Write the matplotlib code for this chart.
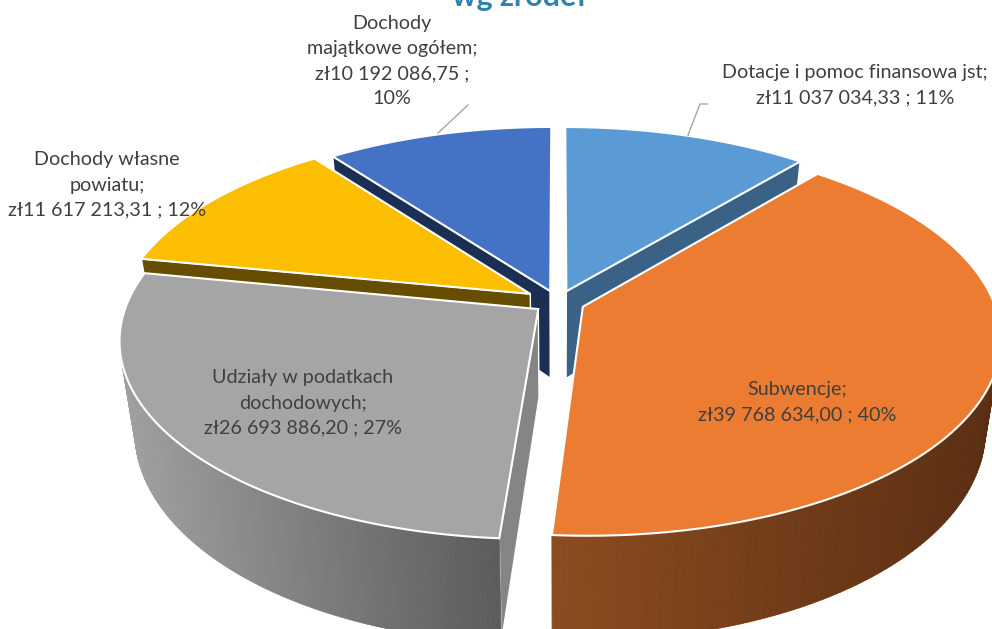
import numpy as np
import matplotlib.pyplot as plt
from matplotlib.colors import to_rgb

plt.rcParams['font.family'] = ['Lato', 'DejaVu Sans']

labels = ['Dotacje i pomoc finansowa jst;\nzł11 037 034,33 ; 11%',
          'Subwencje;\nzł39 768 634,00 ; 40%',
          'Udziały w podatkach\ndochodowych;\nzł26 693 886,20 ; 27%',
          'Dochody własne\npowiatu;\nzł11 617 213,31 ; 12%',
          'Dochody\nmajątkowe ogółem;\nzł10 192 086,75 ;\n10%']
values = [11037034.33, 39768634.00, 26693886.20, 11617213.31, 10192086.75]
label_pos = [(855, 85), (797, 402), (303, 403), (107, 185), (392, 61)]

top_colors = ['#5B9BD5', '#EB7C31', '#A5A5A5', '#FBBE00', '#4472C4']
cut_colors = ['#3A6186', '#5F3213', '#858585', '#664D00', '#1B2F55']
rim_left = ['#3A6186', '#8C4C21', '#A0A0A0', '#664D00', '#1B2F55']
rim_right = ['#3A6186', '#5A2E12', '#5C5C5C', '#664D00', '#1B2F55']
explode = [0.06, 0.065, 0.06, 0.08, 0.06]

# perspective of the tilted pie
cx, cy = 558, 302
a, b, k = 411, 192.4, 0.153
depth = 88
shrink = 0.035


def project(X, Y, z=0.0):
    s = 1 / (1 + k * Y)
    return cx + a * X * s * (1 - shrink * z), cy - b * Y * s + depth * z * s


def area(x, y):
    return 0.5 * np.sum(x * np.roll(y, -1) - np.roll(x, -1) * y)


def faces_viewer(apex, tip, inside):
    # the cut face shows when going down the screen leaves the wedge
    ex, ey = tip[0] - apex[0], tip[1] - apex[1]
    ix, iy = inside[0] - apex[0], inside[1] - apex[1]
    return ex * (ex * iy - ey * ix) < 0


fig = plt.figure(figsize=(9.92, 6.29), dpi=100)
ax = fig.add_axes([0, 0, 1, 1])
ax.set_xlim(0, 992)
ax.set_ylim(629, 0)
ax.axis('off')

fractions = np.array(values) / sum(values)
ends = np.cumsum(fractions) * 2 * np.pi
starts = ends - fractions * 2 * np.pi
mids = (starts + ends) / 2

for i in sorted(range(len(values)), key=lambda j: -np.cos(mids[j])):
    ox = explode[i] * np.sin(mids[i])
    oy = explode[i] * np.cos(mids[i])
    t = np.linspace(starts[i], ends[i], 160)
    rx = ox + np.sin(t)
    ry = oy + np.cos(t)
    px, py = project(rx, ry)
    qx, qy = project(rx, ry, 1)
    ax_, ay_ = project(ox, oy)
    inside = (px[80], py[80])

    # cut faces
    for n in (0, -1):
        if faces_viewer((ax_, ay_), (px[n], py[n]), inside):
            bx, by = project(ox, oy, 1)
            ax.fill([ax_, px[n], qx[n], bx], [ay_, py[n], qy[n], by], facecolor=cut_colors[i],
                    edgecolor='white', lw=1, zorder=2)

    # outer rim
    c0 = np.array(to_rgb(rim_left[i]))
    c1 = np.array(to_rgb(rim_right[i]))
    for n in range(len(t) - 1):
        xs = np.array([px[n], px[n + 1], qx[n + 1], qx[n]])
        ys = np.array([py[n], py[n + 1], qy[n + 1], qy[n]])
        if area(xs, ys) < 0:
            f = np.clip((px[n] - px.min()) / max(px.max() - px.min(), 1), 0, 1)
            col = c0 + (c1 - c0) * f
            ax.fill(xs, ys, facecolor=col, edgecolor=col, lw=0.6, zorder=2)

    # top face
    ax.fill(np.r_[ax_, px], np.r_[ay_, py], facecolor=top_colors[i],
            edgecolor='white', lw=1.5, joinstyle='miter', zorder=2)

for text, (x, y) in zip(labels, label_pos):
    ax.text(x, y, text, ha='center', va='center', fontsize=14.2, color='#404040',
            linespacing=1.58, zorder=5)

# leader lines
ax.plot([438, 468], [133, 105], color='#A6A6A6', lw=1, zorder=4)
ax.plot([688, 700, 707], [135, 104, 104], color='#A6A6A6', lw=1, zorder=4)

ax.text(519, 6, 'wg źródeł', ha='center', va='baseline', fontsize=22, fontweight='bold',
        color='#2E83AD', zorder=5)

fig.savefig('out.png', dpi=100)
